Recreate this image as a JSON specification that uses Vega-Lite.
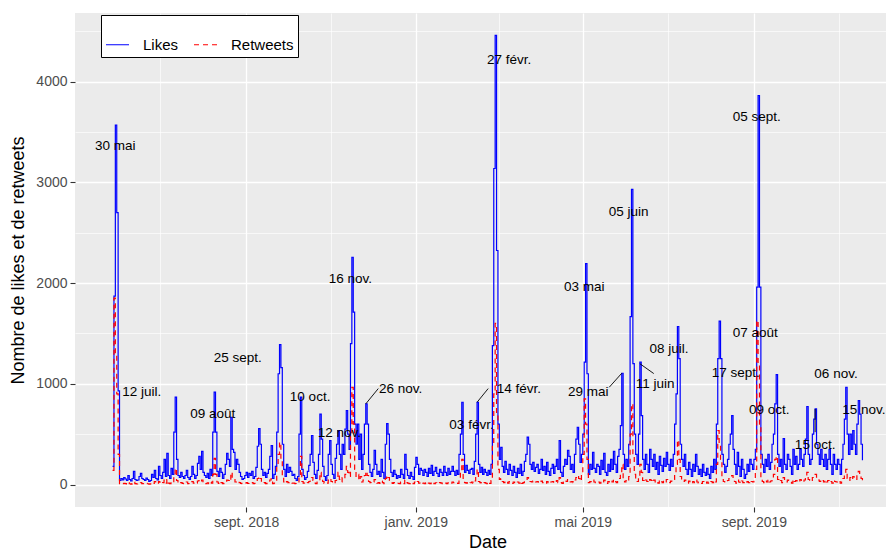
{
"$schema": "https://vega.github.io/schema/vega-lite/v6.json",
"width": 825, "height": 494,
"autosize": {"type": "none"},
"padding": {"left": 75, "top": 13, "right": 0, "bottom": 44},
"background": "white",
"config": {"view": {"fill": "#EBEBEB", "stroke": null}, "font": "Liberation Sans"},
"datasets": {
"series": [
{"date":"2018-05-28","Likes":180,"Retweets":140},
{"date":"2018-05-29","Likes":1870,"Retweets":1850},
{"date":"2018-05-30","Likes":3570,"Retweets":1300},
{"date":"2018-05-31","Likes":2700,"Retweets":900},
{"date":"2018-06-01","Likes":930,"Retweets":300},
{"date":"2018-06-02","Likes":40,"Retweets":10},
{"date":"2018-06-03","Likes":60,"Retweets":15},
{"date":"2018-06-04","Likes":45,"Retweets":8},
{"date":"2018-06-05","Likes":70,"Retweets":12},
{"date":"2018-06-06","Likes":55,"Retweets":10},
{"date":"2018-06-07","Likes":40,"Retweets":5},
{"date":"2018-06-08","Likes":90,"Retweets":20},
{"date":"2018-06-09","Likes":50,"Retweets":8},
{"date":"2018-06-10","Likes":35,"Retweets":5},
{"date":"2018-06-11","Likes":60,"Retweets":10},
{"date":"2018-06-12","Likes":130,"Retweets":25},
{"date":"2018-06-13","Likes":50,"Retweets":10},
{"date":"2018-06-14","Likes":40,"Retweets":6},
{"date":"2018-06-15","Likes":45,"Retweets":8},
{"date":"2018-06-16","Likes":80,"Retweets":15},
{"date":"2018-06-17","Likes":110,"Retweets":20},
{"date":"2018-06-18","Likes":60,"Retweets":10},
{"date":"2018-06-19","Likes":50,"Retweets":8},
{"date":"2018-06-20","Likes":40,"Retweets":5},
{"date":"2018-06-21","Likes":65,"Retweets":12},
{"date":"2018-06-22","Likes":50,"Retweets":8},
{"date":"2018-06-23","Likes":30,"Retweets":5},
{"date":"2018-06-24","Likes":40,"Retweets":6},
{"date":"2018-06-25","Likes":100,"Retweets":18},
{"date":"2018-06-26","Likes":70,"Retweets":12},
{"date":"2018-06-27","Likes":140,"Retweets":30},
{"date":"2018-06-28","Likes":60,"Retweets":10},
{"date":"2018-06-29","Likes":45,"Retweets":8},
{"date":"2018-06-30","Likes":180,"Retweets":30},
{"date":"2018-07-01","Likes":90,"Retweets":15},
{"date":"2018-07-02","Likes":60,"Retweets":10},
{"date":"2018-07-03","Likes":120,"Retweets":20},
{"date":"2018-07-04","Likes":250,"Retweets":45},
{"date":"2018-07-05","Likes":80,"Retweets":15},
{"date":"2018-07-06","Likes":310,"Retweets":50},
{"date":"2018-07-07","Likes":90,"Retweets":15},
{"date":"2018-07-08","Likes":60,"Retweets":10},
{"date":"2018-07-09","Likes":160,"Retweets":25},
{"date":"2018-07-10","Likes":100,"Retweets":20},
{"date":"2018-07-11","Likes":520,"Retweets":80},
{"date":"2018-07-12","Likes":867,"Retweets":160},
{"date":"2018-07-13","Likes":250,"Retweets":40},
{"date":"2018-07-14","Likes":90,"Retweets":15},
{"date":"2018-07-15","Likes":70,"Retweets":10},
{"date":"2018-07-16","Likes":120,"Retweets":20},
{"date":"2018-07-17","Likes":80,"Retweets":12},
{"date":"2018-07-18","Likes":60,"Retweets":8},
{"date":"2018-07-19","Likes":90,"Retweets":15},
{"date":"2018-07-20","Likes":140,"Retweets":25},
{"date":"2018-07-21","Likes":70,"Retweets":10},
{"date":"2018-07-22","Likes":50,"Retweets":8},
{"date":"2018-07-23","Likes":80,"Retweets":12},
{"date":"2018-07-24","Likes":180,"Retweets":30},
{"date":"2018-07-25","Likes":100,"Retweets":15},
{"date":"2018-07-26","Likes":60,"Retweets":8},
{"date":"2018-07-27","Likes":90,"Retweets":15},
{"date":"2018-07-28","Likes":210,"Retweets":35},
{"date":"2018-07-29","Likes":280,"Retweets":40},
{"date":"2018-07-30","Likes":150,"Retweets":25},
{"date":"2018-07-31","Likes":330,"Retweets":45},
{"date":"2018-08-01","Likes":120,"Retweets":20},
{"date":"2018-08-02","Likes":90,"Retweets":15},
{"date":"2018-08-03","Likes":70,"Retweets":10},
{"date":"2018-08-04","Likes":110,"Retweets":18},
{"date":"2018-08-05","Likes":60,"Retweets":8},
{"date":"2018-08-06","Likes":150,"Retweets":25},
{"date":"2018-08-07","Likes":90,"Retweets":15},
{"date":"2018-08-08","Likes":520,"Retweets":100},
{"date":"2018-08-09","Likes":917,"Retweets":260},
{"date":"2018-08-10","Likes":520,"Retweets":100},
{"date":"2018-08-11","Likes":130,"Retweets":25},
{"date":"2018-08-12","Likes":80,"Retweets":12},
{"date":"2018-08-13","Likes":160,"Retweets":30},
{"date":"2018-08-14","Likes":120,"Retweets":20},
{"date":"2018-08-15","Likes":60,"Retweets":10},
{"date":"2018-08-16","Likes":100,"Retweets":15},
{"date":"2018-08-17","Likes":200,"Retweets":30},
{"date":"2018-08-18","Likes":310,"Retweets":45},
{"date":"2018-08-19","Likes":250,"Retweets":40},
{"date":"2018-08-20","Likes":180,"Retweets":30},
{"date":"2018-08-21","Likes":668,"Retweets":120},
{"date":"2018-08-22","Likes":350,"Retweets":60},
{"date":"2018-08-23","Likes":320,"Retweets":50},
{"date":"2018-08-24","Likes":150,"Retweets":25},
{"date":"2018-08-25","Likes":250,"Retweets":35},
{"date":"2018-08-26","Likes":200,"Retweets":30},
{"date":"2018-08-27","Likes":120,"Retweets":20},
{"date":"2018-08-28","Likes":80,"Retweets":12},
{"date":"2018-08-29","Likes":50,"Retweets":8},
{"date":"2018-08-30","Likes":60,"Retweets":10},
{"date":"2018-08-31","Likes":90,"Retweets":15},
{"date":"2018-09-01","Likes":120,"Retweets":20},
{"date":"2018-09-02","Likes":70,"Retweets":12},
{"date":"2018-09-03","Likes":110,"Retweets":18},
{"date":"2018-09-04","Likes":90,"Retweets":15},
{"date":"2018-09-05","Likes":130,"Retweets":20},
{"date":"2018-09-06","Likes":60,"Retweets":10},
{"date":"2018-09-07","Likes":80,"Retweets":12},
{"date":"2018-09-08","Likes":170,"Retweets":30},
{"date":"2018-09-09","Likes":380,"Retweets":60},
{"date":"2018-09-10","Likes":555,"Retweets":80},
{"date":"2018-09-11","Likes":400,"Retweets":60},
{"date":"2018-09-12","Likes":150,"Retweets":25},
{"date":"2018-09-13","Likes":90,"Retweets":15},
{"date":"2018-09-14","Likes":120,"Retweets":20},
{"date":"2018-09-15","Likes":70,"Retweets":10},
{"date":"2018-09-16","Likes":110,"Retweets":18},
{"date":"2018-09-17","Likes":150,"Retweets":25},
{"date":"2018-09-18","Likes":280,"Retweets":45},
{"date":"2018-09-19","Likes":387,"Retweets":60},
{"date":"2018-09-20","Likes":60,"Retweets":10},
{"date":"2018-09-21","Likes":100,"Retweets":15},
{"date":"2018-09-22","Likes":180,"Retweets":30},
{"date":"2018-09-23","Likes":520,"Retweets":180},
{"date":"2018-09-24","Likes":1100,"Retweets":300},
{"date":"2018-09-25","Likes":1390,"Retweets":420},
{"date":"2018-09-26","Likes":1160,"Retweets":250},
{"date":"2018-09-27","Likes":400,"Retweets":80},
{"date":"2018-09-28","Likes":150,"Retweets":25},
{"date":"2018-09-29","Likes":80,"Retweets":12},
{"date":"2018-09-30","Likes":200,"Retweets":30},
{"date":"2018-10-01","Likes":120,"Retweets":20},
{"date":"2018-10-02","Likes":170,"Retweets":25},
{"date":"2018-10-03","Likes":130,"Retweets":20},
{"date":"2018-10-04","Likes":90,"Retweets":15},
{"date":"2018-10-05","Likes":100,"Retweets":15},
{"date":"2018-10-06","Likes":60,"Retweets":10},
{"date":"2018-10-07","Likes":40,"Retweets":8},
{"date":"2018-10-08","Likes":80,"Retweets":12},
{"date":"2018-10-09","Likes":500,"Retweets":90},
{"date":"2018-10-10","Likes":867,"Retweets":280},
{"date":"2018-10-11","Likes":150,"Retweets":30},
{"date":"2018-10-12","Likes":90,"Retweets":15},
{"date":"2018-10-13","Likes":50,"Retweets":8},
{"date":"2018-10-14","Likes":70,"Retweets":12},
{"date":"2018-10-15","Likes":130,"Retweets":20},
{"date":"2018-10-16","Likes":190,"Retweets":30},
{"date":"2018-10-17","Likes":300,"Retweets":45},
{"date":"2018-10-18","Likes":487,"Retweets":70},
{"date":"2018-10-19","Likes":220,"Retweets":40},
{"date":"2018-10-20","Likes":100,"Retweets":15},
{"date":"2018-10-21","Likes":60,"Retweets":10},
{"date":"2018-10-22","Likes":140,"Retweets":25},
{"date":"2018-10-23","Likes":300,"Retweets":40},
{"date":"2018-10-24","Likes":700,"Retweets":120},
{"date":"2018-10-25","Likes":450,"Retweets":70},
{"date":"2018-10-26","Likes":180,"Retweets":30},
{"date":"2018-10-27","Likes":80,"Retweets":12},
{"date":"2018-10-28","Likes":40,"Retweets":8},
{"date":"2018-10-29","Likes":90,"Retweets":15},
{"date":"2018-10-30","Likes":300,"Retweets":45},
{"date":"2018-10-31","Likes":437,"Retweets":60},
{"date":"2018-11-01","Likes":200,"Retweets":30},
{"date":"2018-11-02","Likes":100,"Retweets":15},
{"date":"2018-11-03","Likes":60,"Retweets":10},
{"date":"2018-11-04","Likes":260,"Retweets":40},
{"date":"2018-11-05","Likes":400,"Retweets":60},
{"date":"2018-11-06","Likes":536,"Retweets":120},
{"date":"2018-11-07","Likes":300,"Retweets":50},
{"date":"2018-11-08","Likes":150,"Retweets":25},
{"date":"2018-11-09","Likes":400,"Retweets":70},
{"date":"2018-11-10","Likes":300,"Retweets":60},
{"date":"2018-11-11","Likes":550,"Retweets":100},
{"date":"2018-11-12","Likes":735,"Retweets":180},
{"date":"2018-11-13","Likes":500,"Retweets":120},
{"date":"2018-11-14","Likes":350,"Retweets":80},
{"date":"2018-11-15","Likes":1400,"Retweets":500},
{"date":"2018-11-16","Likes":2257,"Retweets":966},
{"date":"2018-11-17","Likes":1711,"Retweets":600},
{"date":"2018-11-18","Likes":600,"Retweets":150},
{"date":"2018-11-19","Likes":400,"Retweets":80},
{"date":"2018-11-20","Likes":600,"Retweets":100},
{"date":"2018-11-21","Likes":250,"Retweets":40},
{"date":"2018-11-22","Likes":500,"Retweets":80},
{"date":"2018-11-23","Likes":150,"Retweets":25},
{"date":"2018-11-24","Likes":300,"Retweets":45},
{"date":"2018-11-25","Likes":600,"Retweets":90},
{"date":"2018-11-26","Likes":801,"Retweets":130},
{"date":"2018-11-27","Likes":600,"Retweets":90},
{"date":"2018-11-28","Likes":200,"Retweets":30},
{"date":"2018-11-29","Likes":120,"Retweets":20},
{"date":"2018-11-30","Likes":80,"Retweets":15},
{"date":"2018-12-01","Likes":150,"Retweets":25},
{"date":"2018-12-02","Likes":339,"Retweets":50},
{"date":"2018-12-03","Likes":200,"Retweets":30},
{"date":"2018-12-04","Likes":100,"Retweets":15},
{"date":"2018-12-05","Likes":130,"Retweets":20},
{"date":"2018-12-06","Likes":80,"Retweets":12},
{"date":"2018-12-07","Likes":250,"Retweets":35},
{"date":"2018-12-08","Likes":120,"Retweets":20},
{"date":"2018-12-09","Likes":60,"Retweets":10},
{"date":"2018-12-10","Likes":400,"Retweets":60},
{"date":"2018-12-11","Likes":604,"Retweets":90},
{"date":"2018-12-12","Likes":500,"Retweets":70},
{"date":"2018-12-13","Likes":250,"Retweets":40},
{"date":"2018-12-14","Likes":120,"Retweets":20},
{"date":"2018-12-15","Likes":80,"Retweets":12},
{"date":"2018-12-16","Likes":140,"Retweets":20},
{"date":"2018-12-17","Likes":100,"Retweets":15},
{"date":"2018-12-18","Likes":60,"Retweets":10},
{"date":"2018-12-19","Likes":90,"Retweets":12},
{"date":"2018-12-20","Likes":70,"Retweets":10},
{"date":"2018-12-21","Likes":150,"Retweets":25},
{"date":"2018-12-22","Likes":100,"Retweets":15},
{"date":"2018-12-23","Likes":60,"Retweets":10},
{"date":"2018-12-24","Likes":300,"Retweets":45},
{"date":"2018-12-25","Likes":150,"Retweets":20},
{"date":"2018-12-26","Likes":90,"Retweets":15},
{"date":"2018-12-27","Likes":60,"Retweets":10},
{"date":"2018-12-28","Likes":120,"Retweets":20},
{"date":"2018-12-29","Likes":80,"Retweets":12},
{"date":"2018-12-30","Likes":50,"Retweets":8},
{"date":"2018-12-31","Likes":170,"Retweets":25},
{"date":"2019-01-01","Likes":270,"Retweets":40},
{"date":"2019-01-02","Likes":200,"Retweets":30},
{"date":"2019-01-03","Likes":100,"Retweets":15},
{"date":"2019-01-04","Likes":160,"Retweets":10},
{"date":"2019-01-05","Likes":140,"Retweets":20},
{"date":"2019-01-06","Likes":90,"Retweets":15},
{"date":"2019-01-07","Likes":150,"Retweets":8},
{"date":"2019-01-08","Likes":120,"Retweets":18},
{"date":"2019-01-09","Likes":80,"Retweets":6},
{"date":"2019-01-10","Likes":160,"Retweets":15},
{"date":"2019-01-11","Likes":110,"Retweets":10},
{"date":"2019-01-12","Likes":190,"Retweets":25},
{"date":"2019-01-13","Likes":90,"Retweets":12},
{"date":"2019-01-14","Likes":130,"Retweets":8},
{"date":"2019-01-15","Likes":170,"Retweets":18},
{"date":"2019-01-16","Likes":110,"Retweets":12},
{"date":"2019-01-17","Likes":80,"Retweets":8},
{"date":"2019-01-18","Likes":150,"Retweets":20},
{"date":"2019-01-19","Likes":120,"Retweets":15},
{"date":"2019-01-20","Likes":90,"Retweets":10},
{"date":"2019-01-21","Likes":180,"Retweets":20},
{"date":"2019-01-22","Likes":120,"Retweets":15},
{"date":"2019-01-23","Likes":90,"Retweets":10},
{"date":"2019-01-24","Likes":160,"Retweets":18},
{"date":"2019-01-25","Likes":100,"Retweets":8},
{"date":"2019-01-26","Likes":130,"Retweets":15},
{"date":"2019-01-27","Likes":180,"Retweets":25},
{"date":"2019-01-28","Likes":130,"Retweets":18},
{"date":"2019-01-29","Likes":90,"Retweets":10},
{"date":"2019-01-30","Likes":140,"Retweets":15},
{"date":"2019-01-31","Likes":100,"Retweets":12},
{"date":"2019-02-01","Likes":300,"Retweets":50},
{"date":"2019-02-02","Likes":500,"Retweets":120},
{"date":"2019-02-03","Likes":817,"Retweets":250},
{"date":"2019-02-04","Likes":300,"Retweets":60},
{"date":"2019-02-05","Likes":120,"Retweets":20},
{"date":"2019-02-06","Likes":190,"Retweets":15},
{"date":"2019-02-07","Likes":140,"Retweets":20},
{"date":"2019-02-08","Likes":110,"Retweets":10},
{"date":"2019-02-09","Likes":150,"Retweets":18},
{"date":"2019-02-10","Likes":160,"Retweets":25},
{"date":"2019-02-11","Likes":100,"Retweets":12},
{"date":"2019-02-12","Likes":230,"Retweets":35},
{"date":"2019-02-13","Likes":500,"Retweets":80},
{"date":"2019-02-14","Likes":817,"Retweets":150},
{"date":"2019-02-15","Likes":200,"Retweets":30},
{"date":"2019-02-16","Likes":120,"Retweets":20},
{"date":"2019-02-17","Likes":170,"Retweets":15},
{"date":"2019-02-18","Likes":100,"Retweets":10},
{"date":"2019-02-19","Likes":150,"Retweets":20},
{"date":"2019-02-20","Likes":120,"Retweets":15},
{"date":"2019-02-21","Likes":90,"Retweets":10},
{"date":"2019-02-22","Likes":140,"Retweets":25},
{"date":"2019-02-23","Likes":100,"Retweets":12},
{"date":"2019-02-24","Likes":200,"Retweets":40},
{"date":"2019-02-25","Likes":1380,"Retweets":400},
{"date":"2019-02-26","Likes":3138,"Retweets":900},
{"date":"2019-02-27","Likes":4459,"Retweets":1600},
{"date":"2019-02-28","Likes":2324,"Retweets":700},
{"date":"2019-03-01","Likes":600,"Retweets":150},
{"date":"2019-03-02","Likes":250,"Retweets":50},
{"date":"2019-03-03","Likes":370,"Retweets":60},
{"date":"2019-03-04","Likes":180,"Retweets":30},
{"date":"2019-03-05","Likes":120,"Retweets":20},
{"date":"2019-03-06","Likes":230,"Retweets":35},
{"date":"2019-03-07","Likes":150,"Retweets":25},
{"date":"2019-03-08","Likes":100,"Retweets":15},
{"date":"2019-03-09","Likes":200,"Retweets":30},
{"date":"2019-03-10","Likes":140,"Retweets":20},
{"date":"2019-03-11","Likes":90,"Retweets":12},
{"date":"2019-03-12","Likes":180,"Retweets":25},
{"date":"2019-03-13","Likes":120,"Retweets":18},
{"date":"2019-03-14","Likes":70,"Retweets":10},
{"date":"2019-03-15","Likes":160,"Retweets":25},
{"date":"2019-03-16","Likes":110,"Retweets":15},
{"date":"2019-03-17","Likes":200,"Retweets":30},
{"date":"2019-03-18","Likes":90,"Retweets":12},
{"date":"2019-03-19","Likes":130,"Retweets":20},
{"date":"2019-03-20","Likes":230,"Retweets":35},
{"date":"2019-03-21","Likes":300,"Retweets":45},
{"date":"2019-03-22","Likes":470,"Retweets":70},
{"date":"2019-03-23","Likes":400,"Retweets":60},
{"date":"2019-03-24","Likes":200,"Retweets":30},
{"date":"2019-03-25","Likes":150,"Retweets":25},
{"date":"2019-03-26","Likes":220,"Retweets":35},
{"date":"2019-03-27","Likes":130,"Retweets":20},
{"date":"2019-03-28","Likes":170,"Retweets":25},
{"date":"2019-03-29","Likes":200,"Retweets":30},
{"date":"2019-03-30","Likes":110,"Retweets":15},
{"date":"2019-03-31","Likes":150,"Retweets":20},
{"date":"2019-04-01","Likes":250,"Retweets":35},
{"date":"2019-04-02","Likes":140,"Retweets":20},
{"date":"2019-04-03","Likes":180,"Retweets":25},
{"date":"2019-04-04","Likes":100,"Retweets":15},
{"date":"2019-04-05","Likes":220,"Retweets":30},
{"date":"2019-04-06","Likes":130,"Retweets":20},
{"date":"2019-04-07","Likes":90,"Retweets":12},
{"date":"2019-04-08","Likes":160,"Retweets":25},
{"date":"2019-04-09","Likes":200,"Retweets":30},
{"date":"2019-04-10","Likes":110,"Retweets":15},
{"date":"2019-04-11","Likes":180,"Retweets":25},
{"date":"2019-04-12","Likes":250,"Retweets":40},
{"date":"2019-04-13","Likes":150,"Retweets":20},
{"date":"2019-04-14","Likes":437,"Retweets":70},
{"date":"2019-04-15","Likes":120,"Retweets":20},
{"date":"2019-04-16","Likes":80,"Retweets":12},
{"date":"2019-04-17","Likes":180,"Retweets":25},
{"date":"2019-04-18","Likes":250,"Retweets":40},
{"date":"2019-04-19","Likes":200,"Retweets":30},
{"date":"2019-04-20","Likes":340,"Retweets":50},
{"date":"2019-04-21","Likes":280,"Retweets":40},
{"date":"2019-04-22","Likes":150,"Retweets":25},
{"date":"2019-04-23","Likes":200,"Retweets":30},
{"date":"2019-04-24","Likes":120,"Retweets":20},
{"date":"2019-04-25","Likes":300,"Retweets":45},
{"date":"2019-04-26","Likes":450,"Retweets":70},
{"date":"2019-04-27","Likes":569,"Retweets":90},
{"date":"2019-04-28","Likes":400,"Retweets":60},
{"date":"2019-04-29","Likes":220,"Retweets":35},
{"date":"2019-04-30","Likes":300,"Retweets":90},
{"date":"2019-05-01","Likes":500,"Retweets":300},
{"date":"2019-05-02","Likes":1215,"Retweets":850},
{"date":"2019-05-03","Likes":2193,"Retweets":600},
{"date":"2019-05-04","Likes":1100,"Retweets":250},
{"date":"2019-05-05","Likes":100,"Retweets":20},
{"date":"2019-05-06","Likes":200,"Retweets":30},
{"date":"2019-05-07","Likes":150,"Retweets":25},
{"date":"2019-05-08","Likes":320,"Retweets":45},
{"date":"2019-05-09","Likes":160,"Retweets":25},
{"date":"2019-05-10","Likes":120,"Retweets":20},
{"date":"2019-05-11","Likes":200,"Retweets":30},
{"date":"2019-05-12","Likes":180,"Retweets":25},
{"date":"2019-05-13","Likes":100,"Retweets":15},
{"date":"2019-05-14","Likes":240,"Retweets":35},
{"date":"2019-05-15","Likes":150,"Retweets":25},
{"date":"2019-05-16","Likes":310,"Retweets":45},
{"date":"2019-05-17","Likes":120,"Retweets":18},
{"date":"2019-05-18","Likes":90,"Retweets":12},
{"date":"2019-05-19","Likes":200,"Retweets":30},
{"date":"2019-05-20","Likes":130,"Retweets":20},
{"date":"2019-05-21","Likes":250,"Retweets":35},
{"date":"2019-05-22","Likes":150,"Retweets":25},
{"date":"2019-05-23","Likes":330,"Retweets":50},
{"date":"2019-05-24","Likes":200,"Retweets":30},
{"date":"2019-05-25","Likes":120,"Retweets":20},
{"date":"2019-05-26","Likes":280,"Retweets":45},
{"date":"2019-05-27","Likes":350,"Retweets":60},
{"date":"2019-05-28","Likes":585,"Retweets":120},
{"date":"2019-05-29","Likes":1105,"Retweets":200},
{"date":"2019-05-30","Likes":300,"Retweets":60},
{"date":"2019-05-31","Likes":150,"Retweets":25},
{"date":"2019-06-01","Likes":250,"Retweets":40},
{"date":"2019-06-02","Likes":180,"Retweets":30},
{"date":"2019-06-03","Likes":400,"Retweets":80},
{"date":"2019-06-04","Likes":1668,"Retweets":500},
{"date":"2019-06-05","Likes":2930,"Retweets":800},
{"date":"2019-06-06","Likes":1200,"Retweets":300},
{"date":"2019-06-07","Likes":500,"Retweets":100},
{"date":"2019-06-08","Likes":300,"Retweets":50},
{"date":"2019-06-09","Likes":200,"Retweets":30},
{"date":"2019-06-10","Likes":500,"Retweets":80},
{"date":"2019-06-11","Likes":1215,"Retweets":200},
{"date":"2019-06-12","Likes":685,"Retweets":120},
{"date":"2019-06-13","Likes":250,"Retweets":40},
{"date":"2019-06-14","Likes":150,"Retweets":25},
{"date":"2019-06-15","Likes":300,"Retweets":45},
{"date":"2019-06-16","Likes":200,"Retweets":30},
{"date":"2019-06-17","Likes":120,"Retweets":20},
{"date":"2019-06-18","Likes":350,"Retweets":50},
{"date":"2019-06-19","Likes":250,"Retweets":40},
{"date":"2019-06-20","Likes":180,"Retweets":25},
{"date":"2019-06-21","Likes":300,"Retweets":45},
{"date":"2019-06-22","Likes":150,"Retweets":25},
{"date":"2019-06-23","Likes":220,"Retweets":35},
{"date":"2019-06-24","Likes":100,"Retweets":15},
{"date":"2019-06-25","Likes":280,"Retweets":45},
{"date":"2019-06-26","Likes":190,"Retweets":30},
{"date":"2019-06-27","Likes":130,"Retweets":20},
{"date":"2019-06-28","Likes":260,"Retweets":40},
{"date":"2019-06-29","Likes":180,"Retweets":25},
{"date":"2019-06-30","Likes":320,"Retweets":50},
{"date":"2019-07-01","Likes":200,"Retweets":30},
{"date":"2019-07-02","Likes":140,"Retweets":20},
{"date":"2019-07-03","Likes":250,"Retweets":35},
{"date":"2019-07-04","Likes":180,"Retweets":30},
{"date":"2019-07-05","Likes":300,"Retweets":50},
{"date":"2019-07-06","Likes":600,"Retweets":100},
{"date":"2019-07-07","Likes":900,"Retweets":200},
{"date":"2019-07-08","Likes":1569,"Retweets":440},
{"date":"2019-07-09","Likes":1250,"Retweets":250},
{"date":"2019-07-10","Likes":400,"Retweets":80},
{"date":"2019-07-11","Likes":250,"Retweets":40},
{"date":"2019-07-12","Likes":180,"Retweets":30},
{"date":"2019-07-13","Likes":300,"Retweets":45},
{"date":"2019-07-14","Likes":150,"Retweets":25},
{"date":"2019-07-15","Likes":100,"Retweets":15},
{"date":"2019-07-16","Likes":220,"Retweets":35},
{"date":"2019-07-17","Likes":150,"Retweets":20},
{"date":"2019-07-18","Likes":80,"Retweets":12},
{"date":"2019-07-19","Likes":200,"Retweets":30},
{"date":"2019-07-20","Likes":130,"Retweets":20},
{"date":"2019-07-21","Likes":300,"Retweets":45},
{"date":"2019-07-22","Likes":180,"Retweets":25},
{"date":"2019-07-23","Likes":100,"Retweets":15},
{"date":"2019-07-24","Likes":150,"Retweets":20},
{"date":"2019-07-25","Likes":80,"Retweets":12},
{"date":"2019-07-26","Likes":200,"Retweets":30},
{"date":"2019-07-27","Likes":120,"Retweets":18},
{"date":"2019-07-28","Likes":90,"Retweets":12},
{"date":"2019-07-29","Likes":160,"Retweets":25},
{"date":"2019-07-30","Likes":100,"Retweets":15},
{"date":"2019-07-31","Likes":60,"Retweets":10},
{"date":"2019-08-01","Likes":180,"Retweets":30},
{"date":"2019-08-02","Likes":120,"Retweets":20},
{"date":"2019-08-03","Likes":250,"Retweets":40},
{"date":"2019-08-04","Likes":150,"Retweets":25},
{"date":"2019-08-05","Likes":600,"Retweets":200},
{"date":"2019-08-06","Likes":1250,"Retweets":536},
{"date":"2019-08-07","Likes":1622,"Retweets":400},
{"date":"2019-08-08","Likes":1250,"Retweets":250},
{"date":"2019-08-09","Likes":300,"Retweets":50},
{"date":"2019-08-10","Likes":200,"Retweets":30},
{"date":"2019-08-11","Likes":120,"Retweets":20},
{"date":"2019-08-12","Likes":180,"Retweets":25},
{"date":"2019-08-13","Likes":250,"Retweets":40},
{"date":"2019-08-14","Likes":400,"Retweets":60},
{"date":"2019-08-15","Likes":500,"Retweets":70},
{"date":"2019-08-16","Likes":685,"Retweets":90},
{"date":"2019-08-17","Likes":350,"Retweets":50},
{"date":"2019-08-18","Likes":200,"Retweets":30},
{"date":"2019-08-19","Likes":100,"Retweets":15},
{"date":"2019-08-20","Likes":320,"Retweets":45},
{"date":"2019-08-21","Likes":180,"Retweets":25},
{"date":"2019-08-22","Likes":80,"Retweets":12},
{"date":"2019-08-23","Likes":250,"Retweets":35},
{"date":"2019-08-24","Likes":150,"Retweets":20},
{"date":"2019-08-25","Likes":60,"Retweets":10},
{"date":"2019-08-26","Likes":100,"Retweets":15},
{"date":"2019-08-27","Likes":200,"Retweets":30},
{"date":"2019-08-28","Likes":130,"Retweets":20},
{"date":"2019-08-29","Likes":250,"Retweets":40},
{"date":"2019-08-30","Likes":200,"Retweets":30},
{"date":"2019-08-31","Likes":150,"Retweets":25},
{"date":"2019-09-01","Likes":250,"Retweets":40},
{"date":"2019-09-02","Likes":350,"Retweets":150},
{"date":"2019-09-03","Likes":1960,"Retweets":1630},
{"date":"2019-09-04","Likes":3863,"Retweets":1200},
{"date":"2019-09-05","Likes":1960,"Retweets":600},
{"date":"2019-09-06","Likes":300,"Retweets":60},
{"date":"2019-09-07","Likes":200,"Retweets":30},
{"date":"2019-09-08","Likes":120,"Retweets":20},
{"date":"2019-09-09","Likes":250,"Retweets":40},
{"date":"2019-09-10","Likes":180,"Retweets":25},
{"date":"2019-09-11","Likes":300,"Retweets":50},
{"date":"2019-09-12","Likes":150,"Retweets":25},
{"date":"2019-09-13","Likes":220,"Retweets":35},
{"date":"2019-09-14","Likes":400,"Retweets":60},
{"date":"2019-09-15","Likes":500,"Retweets":100},
{"date":"2019-09-16","Likes":800,"Retweets":250},
{"date":"2019-09-17","Likes":1092,"Retweets":280},
{"date":"2019-09-18","Likes":300,"Retweets":50},
{"date":"2019-09-19","Likes":180,"Retweets":30},
{"date":"2019-09-20","Likes":250,"Retweets":40},
{"date":"2019-09-21","Likes":120,"Retweets":20},
{"date":"2019-09-22","Likes":455,"Retweets":70},
{"date":"2019-09-23","Likes":200,"Retweets":30},
{"date":"2019-09-24","Likes":150,"Retweets":25},
{"date":"2019-09-25","Likes":300,"Retweets":45},
{"date":"2019-09-26","Likes":250,"Retweets":40},
{"date":"2019-09-27","Likes":180,"Retweets":25},
{"date":"2019-09-28","Likes":100,"Retweets":15},
{"date":"2019-09-29","Likes":350,"Retweets":50},
{"date":"2019-09-30","Likes":200,"Retweets":30},
{"date":"2019-10-01","Likes":280,"Retweets":40},
{"date":"2019-10-02","Likes":150,"Retweets":25},
{"date":"2019-10-03","Likes":200,"Retweets":30},
{"date":"2019-10-04","Likes":350,"Retweets":50},
{"date":"2019-10-05","Likes":250,"Retweets":40},
{"date":"2019-10-06","Likes":180,"Retweets":25},
{"date":"2019-10-07","Likes":300,"Retweets":45},
{"date":"2019-10-08","Likes":450,"Retweets":60},
{"date":"2019-10-09","Likes":775,"Retweets":120},
{"date":"2019-10-10","Likes":300,"Retweets":50},
{"date":"2019-10-11","Likes":200,"Retweets":30},
{"date":"2019-10-12","Likes":250,"Retweets":40},
{"date":"2019-10-13","Likes":500,"Retweets":70},
{"date":"2019-10-14","Likes":650,"Retweets":90},
{"date":"2019-10-15","Likes":752,"Retweets":100},
{"date":"2019-10-16","Likes":400,"Retweets":60},
{"date":"2019-10-17","Likes":300,"Retweets":45},
{"date":"2019-10-18","Likes":200,"Retweets":30},
{"date":"2019-10-19","Likes":350,"Retweets":50},
{"date":"2019-10-20","Likes":250,"Retweets":40},
{"date":"2019-10-21","Likes":180,"Retweets":25},
{"date":"2019-10-22","Likes":300,"Retweets":45},
{"date":"2019-10-23","Likes":150,"Retweets":25},
{"date":"2019-10-24","Likes":250,"Retweets":40},
{"date":"2019-10-25","Likes":350,"Retweets":50},
{"date":"2019-10-26","Likes":200,"Retweets":30},
{"date":"2019-10-27","Likes":100,"Retweets":15},
{"date":"2019-10-28","Likes":300,"Retweets":45},
{"date":"2019-10-29","Likes":200,"Retweets":30},
{"date":"2019-10-30","Likes":150,"Retweets":25},
{"date":"2019-10-31","Likes":250,"Retweets":40},
{"date":"2019-11-01","Likes":200,"Retweets":30},
{"date":"2019-11-02","Likes":100,"Retweets":15},
{"date":"2019-11-03","Likes":250,"Retweets":40},
{"date":"2019-11-04","Likes":400,"Retweets":60},
{"date":"2019-11-05","Likes":650,"Retweets":120},
{"date":"2019-11-06","Likes":966,"Retweets":150},
{"date":"2019-11-07","Likes":500,"Retweets":60},
{"date":"2019-11-08","Likes":300,"Retweets":40},
{"date":"2019-11-09","Likes":500,"Retweets":70},
{"date":"2019-11-10","Likes":350,"Retweets":50},
{"date":"2019-11-11","Likes":536,"Retweets":80},
{"date":"2019-11-12","Likes":400,"Retweets":60},
{"date":"2019-11-13","Likes":300,"Retweets":50},
{"date":"2019-11-14","Likes":600,"Retweets":100},
{"date":"2019-11-15","Likes":834,"Retweets":130},
{"date":"2019-11-16","Likes":700,"Retweets":100},
{"date":"2019-11-17","Likes":400,"Retweets":60},
{"date":"2019-11-18","Likes":240,"Retweets":40}
],
"labels": [
{"label":"30 mai","date":"2018-05-30","n":3366},
{"label":"12 juil.","date":"2018-06-18","n":923},
{"label":"09 août","date":"2018-08-08","n":705},
{"label":"25 sept.","date":"2018-08-26","n":1261},
{"label":"10 oct.","date":"2018-10-17","n":874},
{"label":"16 nov.","date":"2018-11-15","n":2036},
{"label":"12 nov.","date":"2018-11-07","n":516},
{"label":"26 nov.","date":"2018-12-21","n":953},
{"label":"03 févr.","date":"2019-02-10","n":596},
{"label":"14 févr.","date":"2019-03-16","n":953},
{"label":"27 févr.","date":"2019-03-09","n":4220},
{"label":"03 mai","date":"2019-05-02","n":1966},
{"label":"29 mai","date":"2019-05-05","n":923},
{"label":"05 juin","date":"2019-06-03","n":2711},
{"label":"11 juin","date":"2019-06-22","n":1003},
{"label":"08 juil.","date":"2019-07-02","n":1350},
{"label":"17 sept.","date":"2019-08-19","n":1112},
{"label":"07 août","date":"2019-09-02","n":1500},
{"label":"05 sept.","date":"2019-09-03","n":3645},
{"label":"09 oct.","date":"2019-09-12","n":745},
{"label":"15 oct.","date":"2019-10-15","n":397},
{"label":"06 nov.","date":"2019-10-30","n":1102},
{"label":"15 nov.","date":"2019-11-19","n":745}
],
"leaders": [
{"date":"2018-12-05","n":953,"date2":"2018-11-26","n2":801},
{"date":"2019-02-22","n":953,"date2":"2019-02-14","n2":817},
{"date":"2019-05-20","n":966,"date2":"2019-05-29","n2":1105},
{"date":"2019-06-21","n":1102,"date2":"2019-06-11","n2":1200},
{"date":"2019-10-15","n":750,"date2":"2019-10-15","n2":520}
]
},
"encoding": {
"x": {"field": "date", "type": "temporal", "title": "Date",
  "scale": {"type": "utc", "domain": [{"year": 2018, "month": 5, "date": 1, "utc": true}, {"year": 2019, "month": 12, "date": 15, "utc": true}]},
  "axis": {
    "values": [{"year": 2018, "month": 7, "date": 1, "utc": true}, {"year": 2018, "month": 9, "date": 1, "utc": true}, {"year": 2018, "month": 11, "date": 1, "utc": true}, {"year": 2019, "month": 1, "date": 1, "utc": true}, {"year": 2019, "month": 3, "date": 2, "utc": true}, {"year": 2019, "month": 5, "date": 1, "utc": true}, {"year": 2019, "month": 7, "date": 1, "utc": true}, {"year": 2019, "month": 9, "date": 1, "utc": true}, {"year": 2019, "month": 11, "date": 1, "utc": true}],
    "labelExpr": "utcmonth(datum.value) % 4 === 0 ? (['janv.','févr.','mars','avr.','mai','juin','juil.','août','sept.','oct.','nov.','déc.'][utcmonth(datum.value)] + ' ' + utcyear(datum.value)) : ''",
    "domain": false, "grid": true, "gridColor": "white",
    "gridWidth": {"condition": {"test": "utcmonth(datum.value) % 4 === 0", "value": 1.3}, "value": 0.65},
    "tickOpacity": {"condition": {"test": "utcmonth(datum.value) % 4 === 0", "value": 1}, "value": 0},
    "tickColor": "#333333", "tickSize": 5, "tickWidth": 1.1,
    "labelColor": "#4D4D4D", "labelFontSize": 14, "labelPadding": 3, "labelOverlap": false, "labelFlush": false,
    "titleFontSize": 18, "titleFontWeight": "normal", "titleColor": "black", "titlePadding": 4
  }},
"y": {"field": "n", "type": "quantitative", "title": "Nombre de likes et de retweets",
  "scale": {"domain": [-223, 4682], "nice": false, "zero": false},
  "axis": {
    "values": [0, 500, 1000, 1500, 2000, 2500, 3000, 3500, 4000, 4500],
    "format": "d",
    "labelExpr": "datum.value % 1000 === 0 ? datum.label : ''",
    "domain": false, "grid": true, "gridColor": "white",
    "gridWidth": {"condition": {"test": "datum.value % 1000 === 0", "value": 1.3}, "value": 0.65},
    "tickOpacity": {"condition": {"test": "datum.value % 1000 === 0", "value": 1}, "value": 0},
    "tickColor": "#333333", "tickSize": 5, "tickWidth": 1.1,
    "labelColor": "#4D4D4D", "labelFontSize": 14, "labelPadding": 3,
    "titleFontSize": 18, "titleFontWeight": "normal", "titleColor": "black", "titlePadding": 8
  }}
},
"layer": [
{
 "data": {"name": "series"},
 "transform": [{"fold": ["Likes", "Retweets"], "as": ["serie", "n"]}],
 "mark": {"type": "line", "strokeWidth": 1.2, "clip": true, "interpolate": "step-after"},
 "encoding": {
  "color": {"field": "serie", "type": "nominal", "scale": {"domain": ["Likes", "Retweets"], "range": ["#0000FF", "#FF0000"]},
   "legend": {"orient": "none", "legendX": 26, "legendY": 2, "direction": "horizontal", "title": " ", "titleFontSize": 13, "titlePadding": 0, "padding": 4, "fillColor": "white", "strokeColor": "black", "symbolType": "stroke", "symbolSize": 529, "symbolStrokeWidth": 1.2, "labelFontSize": 15, "labelColor": "black", "labelOffset": 13, "columnPadding": 12}},
  "strokeDash": {"field": "serie", "type": "nominal", "scale": {"domain": ["Likes", "Retweets"], "range": [[1, 0], [5, 4]]},
   "legend": {"orient": "none", "legendX": 26, "legendY": 2, "direction": "horizontal", "title": " ", "titleFontSize": 13, "titlePadding": 0, "padding": 4, "fillColor": "white", "strokeColor": "black", "symbolType": "stroke", "symbolSize": 529, "symbolStrokeWidth": 1.2, "labelFontSize": 15, "labelColor": "black", "labelOffset": 13, "columnPadding": 12}}
 }
},
{
 "data": {"name": "leaders"},
 "mark": {"type": "rule", "color": "black", "strokeWidth": 0.9},
 "encoding": {"x2": {"field": "date2"}, "y2": {"field": "n2"}}
},
{
 "data": {"name": "labels"},
 "mark": {"type": "text", "fontSize": 13.5, "color": "black", "align": "center", "baseline": "middle"},
 "encoding": {"text": {"field": "label"}}
}
]
}
